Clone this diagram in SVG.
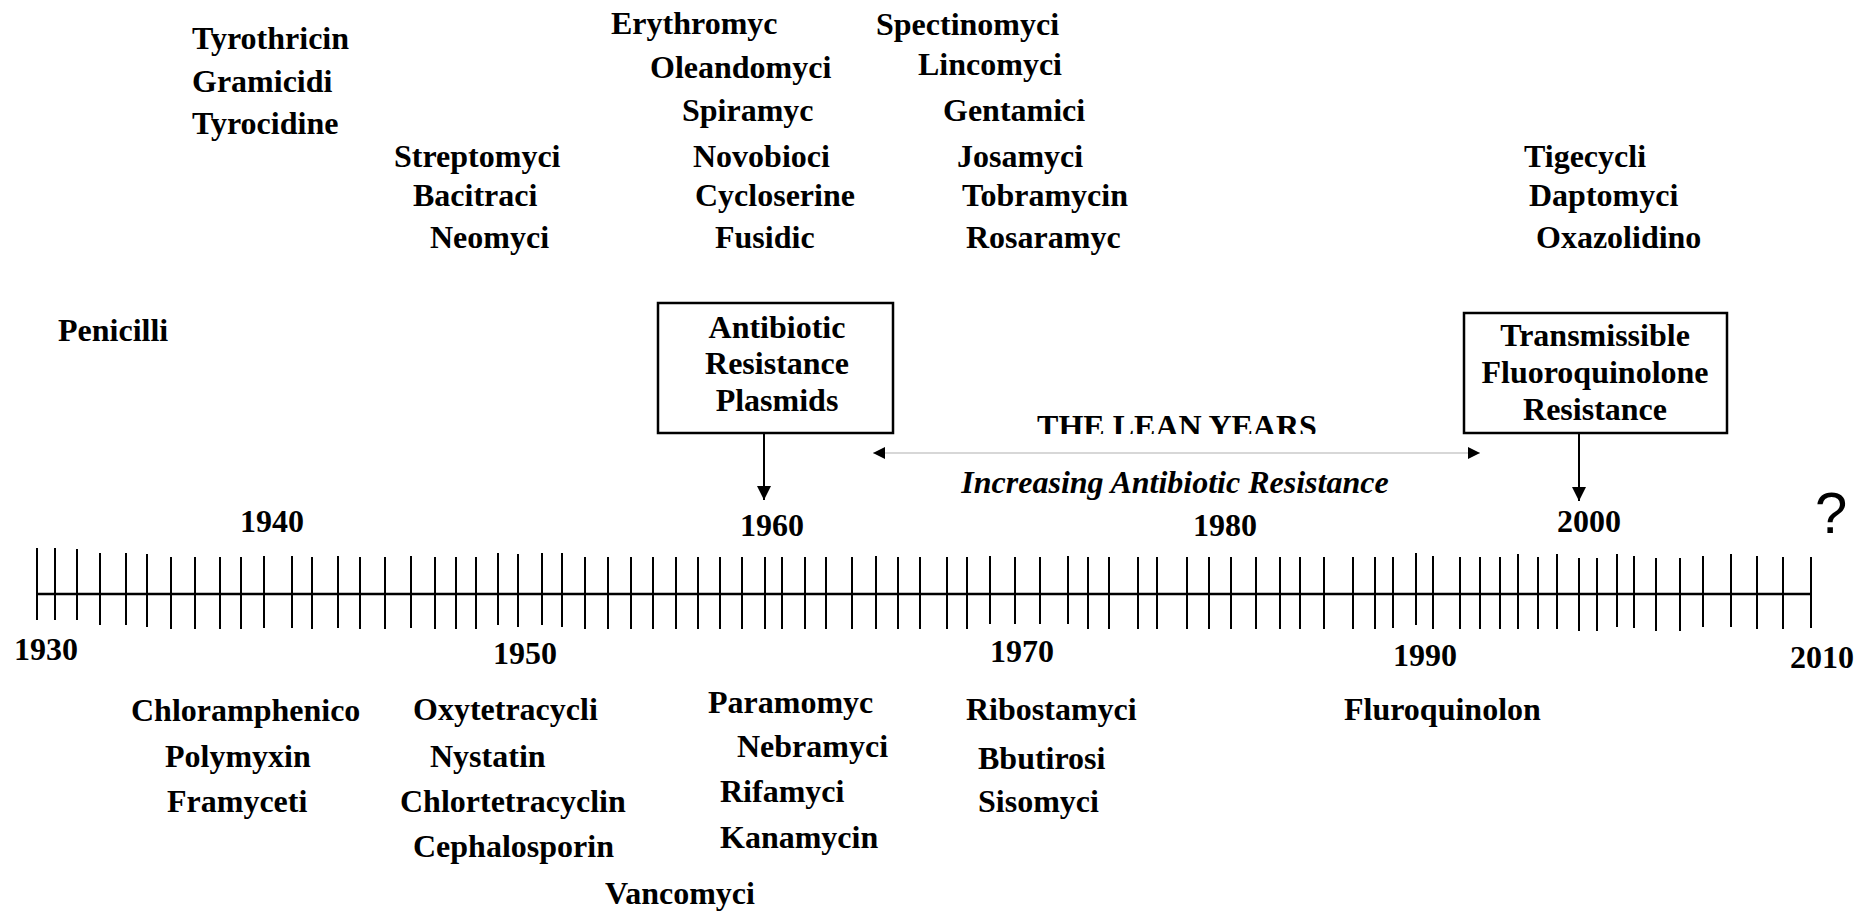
<svg xmlns="http://www.w3.org/2000/svg" width="1857" height="911" viewBox="0 0 1857 911">
<style>
text{font-family:"Liberation Serif","Times New Roman",serif;font-weight:bold;font-size:32px;fill:#000}
.c{text-anchor:middle}
.it{font-style:italic}
.q{font-family:"Liberation Sans",Arial,sans-serif;font-weight:normal;font-size:58px}
.box{fill:#fff;stroke:#000;stroke-width:2.5}
.ax{stroke:#000;stroke-width:2.5;fill:none}
.tk{stroke:#000;stroke-width:2;fill:none}
.arr{stroke:#000;stroke-width:2;fill:none}
.thin{stroke:#b0b0b0;stroke-width:1.2;fill:none}
</style>
<defs>
<marker id="ah" viewBox="0 0 10 10" refX="10" refY="5" markerWidth="14" markerHeight="14" markerUnits="userSpaceOnUse" orient="auto"><path d="M0,0 L10,5 L0,10 Z" fill="#000"/></marker>
<marker id="ah2" viewBox="0 0 10 10" refX="10" refY="5" markerWidth="12" markerHeight="12" markerUnits="userSpaceOnUse" orient="auto-start-reverse"><path d="M0,0 L10,5 L0,10 Z" fill="#000"/></marker>
<clipPath id="leanclip"><rect x="900" y="380" width="560" height="54"/></clipPath>
</defs>

<g id="timeline">
<line class="ax" x1="37" y1="594" x2="1811" y2="594"/>
<path class="tk" d="M37,548V620 M55,548V620 M77,549V620 M100,553V625 M126,553V625 M147,554V627 M171,557V629 M195,557V629 M220,557V629 M241,557V629 M264,556V628 M292,556V628 M312,557V629 M338,556V628 M360,557V629 M385,557V629 M411,556V628 M435,557V629 M456,557V629 M476,557V629 M498,553V625 M518,554V627 M542,553V625 M562,553V627 M585,557V629 M608,557V629 M631,557V629 M653,557V629 M676,557V629 M698,557V629 M720,557V629 M742,557V629 M765,557V629 M782,557V629 M805,557V629 M826,557V629 M852,557V629 M876,556V629 M898,557V629 M920,557V629 M947,557V629 M967,557V629 M990,556V624 M1015,557V624 M1040,557V624 M1068,556V624 M1088,557V629 M1109,557V629 M1138,557V629 M1157,557V629 M1187,557V629 M1209,557V629 M1231,557V629 M1256,557V629 M1280,557V629 M1300,557V629 M1324,557V629 M1353,557V629 M1375,557V629 M1393,557V628 M1416,553V625 M1433,556V629 M1460,557V629 M1480,557V629 M1500,557V629 M1518,554V629 M1538,557V629 M1557,554V629 M1579,558V631 M1597,558V631 M1617,554V627 M1634,556V628 M1656,558V631 M1680,558V631 M1703,556V627 M1731,554V627 M1757,556V629 M1783,557V629 M1811,557V628"/>
</g>

<g id="years">
<text x="240" y="532">1940</text>
<text x="740" y="536">1960</text>
<text x="1193" y="536">1980</text>
<text x="1557" y="532">2000</text>
<text x="14" y="660">1930</text>
<text x="493" y="664">1950</text>
<text x="990" y="662">1970</text>
<text x="1393" y="666">1990</text>
<text x="1790" y="668">2010</text>
<text class="q" x="1815" y="533">?</text>
</g>

<g id="top-1940s">
<text x="192" y="49">Tyrothricin</text>
<text x="192" y="92">Gramicidi</text>
<text x="192" y="134">Tyrocidine</text>
<text x="394" y="167">Streptomyci</text>
<text x="413" y="206">Bacitraci</text>
<text x="430" y="248">Neomyci</text>
<text x="58" y="341">Penicilli</text>
</g>

<g id="top-1950s">
<text x="611" y="34">Erythromyc</text>
<text x="650" y="78">Oleandomyci</text>
<text x="682" y="121">Spiramyc</text>
<text x="693" y="167">Novobioci</text>
<text x="695" y="206">Cycloserine</text>
<text x="715" y="248">Fusidic</text>
</g>

<g id="top-1960s">
<text x="876" y="35">Spectinomyci</text>
<text x="918" y="75">Lincomyci</text>
<text x="943" y="121">Gentamici</text>
<text x="957" y="167">Josamyci</text>
<text x="962" y="206">Tobramycin</text>
<text x="966" y="248">Rosaramyc</text>
</g>

<g id="top-2000s">
<text x="1524" y="167">Tigecycli</text>
<text x="1529" y="206">Daptomyci</text>
<text x="1536" y="248">Oxazolidino</text>
</g>

<g id="bottom-1940s">
<text x="131" y="721">Chloramphenico</text>
<text x="165" y="767">Polymyxin</text>
<text x="167" y="812">Framyceti</text>
</g>

<g id="bottom-1950s">
<text x="413" y="720">Oxytetracycli</text>
<text x="430" y="767">Nystatin</text>
<text x="400" y="812">Chlortetracyclin</text>
<text x="413" y="857">Cephalosporin</text>
<text x="605" y="904">Vancomyci</text>
</g>

<g id="bottom-1960s">
<text x="708" y="713">Paramomyc</text>
<text x="737" y="757">Nebramyci</text>
<text x="720" y="802">Rifamyci</text>
<text x="720" y="848">Kanamycin</text>
</g>

<g id="bottom-1970s">
<text x="966" y="720">Ribostamyci</text>
<text x="978" y="769">Bbutirosi</text>
<text x="978" y="812">Sisomyci</text>
</g>

<g id="bottom-1990s">
<text x="1344" y="720">Fluroquinolon</text>
</g>

<g id="box-plasmids">
<rect class="box" x="658" y="303" width="235" height="130"/>
<text class="c" x="777" y="338">Antibiotic</text>
<text class="c" x="777" y="374">Resistance</text>
<text class="c" x="777" y="411">Plasmids</text>
</g>

<g id="box-fluoroquinolone">
<rect class="box" x="1464" y="313" width="263" height="120"/>
<text class="c" x="1595" y="346">Transmissible</text>
<text class="c" x="1595" y="383">Fluoroquinolone</text>
<text class="c" x="1595" y="420">Resistance</text>
</g>

<g id="lean-years">
<text class="c" x="1177" y="437" clip-path="url(#leanclip)">THE LEAN YEARS</text>
<text class="c it" x="1175" y="493">Increasing Antibiotic Resistance</text>
</g>

<g id="connectors">
<line class="arr" x1="764" y1="433" x2="764" y2="500" marker-end="url(#ah)"/>
<line class="arr" x1="1579" y1="433" x2="1579" y2="501" marker-end="url(#ah)"/>
<line class="thin" x1="873" y1="453" x2="1480" y2="453" marker-start="url(#ah2)" marker-end="url(#ah2)"/>
</g>
</svg>
